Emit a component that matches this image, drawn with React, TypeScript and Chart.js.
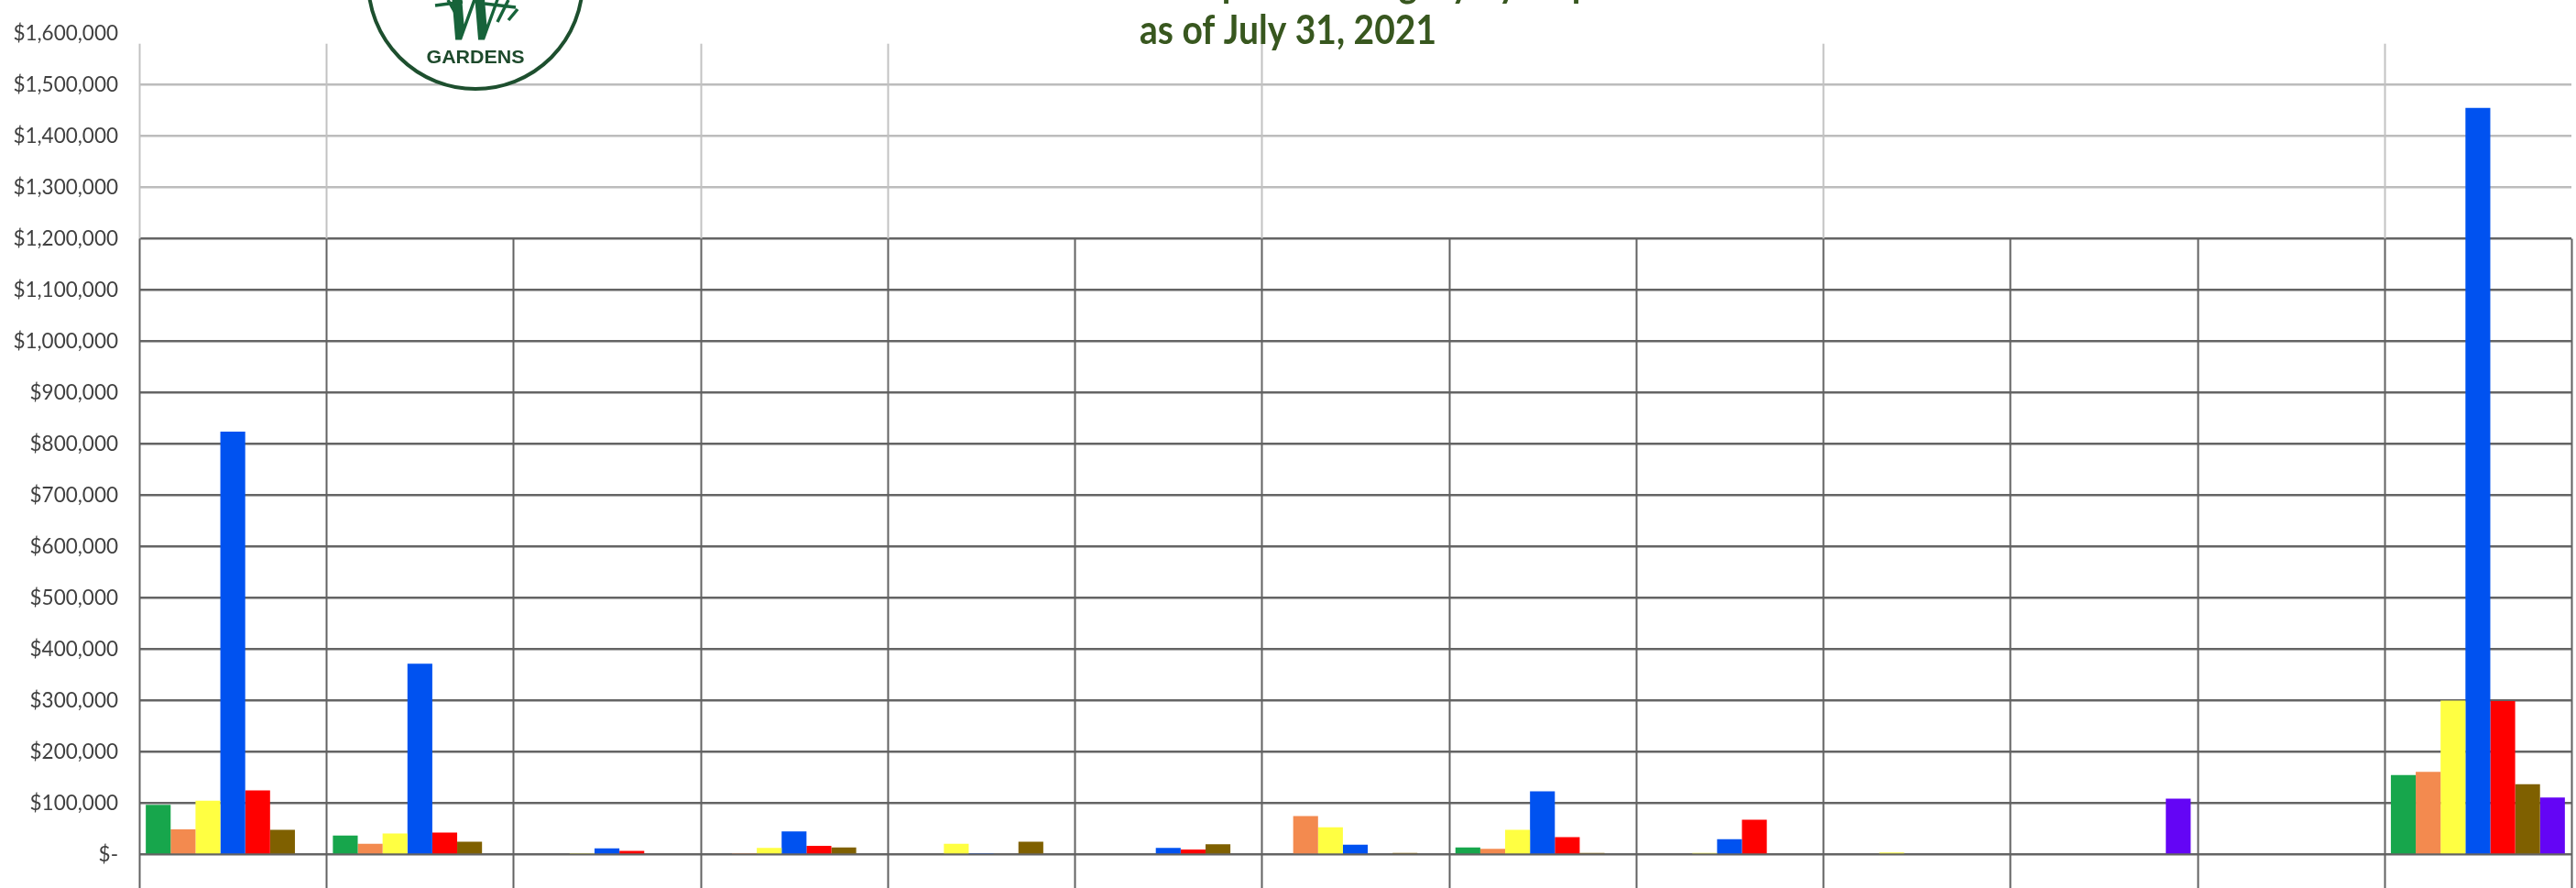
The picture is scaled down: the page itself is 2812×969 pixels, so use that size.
import React, { useEffect, useRef } from 'react';
import { Chart, registerables } from 'chart.js';

Chart.register(...registerables);

// Departments along the category axis (their labels sit below the visible area)
const departments = [
  'Administration', 'Horticulture', 'Education', 'Events', 'Marketing', 'Membership',
  'Retail', 'Visitor Services', 'Security', 'Volunteers', 'Development', 'Finance', 'Facilities',
];

// Expense categories, one bar colour each
const categoryNames = ['Payroll', 'Benefits', 'Supplies', 'Capital', 'Contract Services', 'Utilities', 'Other'];
const categoryColors = ['#17a64c', '#f38a4f', '#ffff42', '#0052f0', '#ff0000', '#7f6000', '#6405f5'];

// Year-to-date spend per department, by category
const payroll = [97000, 37000, 0, 0, 0, 0, 0, 14000, 0, 0, 0, 0, 155000];
const benefits = [49000, 21000, 0, 2000, 0, 0, 75000, 11000, 0, 0, 0, 0, 161000];
const supplies = [105000, 41000, 2000, 13000, 21000, 0, 53000, 48000, 3000, 4000, 0, 0, 300000];
const capital = [824000, 372000, 12000, 45000, 2000, 13000, 19000, 123000, 30000, 0, 0, 0, 1455000];
const contractServices = [125000, 43000, 7000, 17000, 0, 10000, 0, 34000, 68000, 0, 0, 0, 299000];
const utilities = [48000, 25000, 0, 14000, 25000, 20000, 3000, 3000, 0, 0, 0, 0, 137000];
const other = [0, 0, 0, 0, 0, 0, 0, 0, 0, 0, 109000, 0, 111000];

const seriesValues = [payroll, benefits, supplies, capital, contractServices, utilities, other];

// Value axis
const axisMin = 0;
const axisMax = 1600000;
const axisStep = 100000;

const titleLine1 = 'Year-to-Date Actual Expense Category by Department';
const titleLine2 = 'as of July 31, 2021';

// Dividers that run the full height; the rest start at the upper band level
const fullDividers = [0, 1, 3, 4, 6, 9, 12];
const dividerFullTop = 1580000;
const dividerBandTop = 1200000;

const formatDollars = (v: number) =>
  v === 0 ? '$-' : '$' + Math.round(v).toLocaleString('en-US');

const backgroundPlugin = {
  id: 'whiteBackground',
  beforeDraw(chart: any) {
    const { ctx, width, height } = chart;
    ctx.save();
    ctx.fillStyle = '#ffffff';
    ctx.fillRect(0, 0, width, height);
    ctx.restore();
  },
};

const dividerPlugin = {
  id: 'categoryDividers',
  beforeDatasetsDraw(chart: any) {
    const { ctx, scales, height } = chart;
    const x = scales.x;
    const y = scales.y;
    const n = departments.length;
    const w = (x.right - x.left) / n;
    const yBand = y.getPixelForValue(dividerBandTop);
    const yTop = y.getPixelForValue(dividerFullTop);
    ctx.save();
    ctx.lineWidth = 2;
    for (let k = 0; k <= n; k++) {
      const px = Math.round(x.left + k * w) + 0.5;
      if (fullDividers.includes(k)) {
        ctx.strokeStyle = '#c2c2c2';
        ctx.beginPath();
        ctx.moveTo(px, yTop);
        ctx.lineTo(px, yBand);
        ctx.stroke();
      }
      ctx.strokeStyle = '#626262';
      ctx.beginPath();
      ctx.moveTo(px, yBand);
      ctx.lineTo(px, height);
      ctx.stroke();
    }
    ctx.restore();
  },
};

const headerPlugin = {
  id: 'headerBlock',
  afterDraw(chart: any) {
    const { ctx, width } = chart;
    ctx.save();

    // Logo badge
    const cx = 519;
    const cy = -20;
    const r = 117;
    ctx.fillStyle = '#ffffff';
    ctx.beginPath();
    ctx.arc(cx, cy, r, 0, Math.PI * 2);
    ctx.fill();
    ctx.lineWidth = 4;
    ctx.strokeStyle = '#1d4f2e';
    ctx.stroke();

    ctx.fillStyle = '#17633a';
    ctx.textAlign = 'center';
    ctx.textBaseline = 'alphabetic';
    ctx.font = 'bold italic 76px "DejaVu Serif"';
    ctx.save();
    ctx.translate(cx - 2, 44);
    ctx.scale(0.72, 1);
    ctx.fillText('W', 0, 0);
    ctx.restore();
    ctx.strokeStyle = '#17633a';
    ctx.lineWidth = 3.5;
    ctx.beginPath();
    ctx.moveTo(cx - 44, 6); ctx.lineTo(cx - 14, 2);
    ctx.moveTo(cx - 30, 0); ctx.lineTo(cx - 22, 14);
    ctx.moveTo(cx + 10, 4); ctx.lineTo(cx + 44, 8);
    ctx.moveTo(cx + 36, 0); ctx.lineTo(cx + 24, 24);
    ctx.moveTo(cx + 46, 10); ctx.lineTo(cx + 36, 22);
    ctx.stroke();

    ctx.fillStyle = '#1e4a2c';
    ctx.font = 'bold 20px "Liberation Sans"';
    const gw = ctx.measureText('GARDENS').width;
    ctx.save();
    ctx.translate(cx, 69);
    ctx.scale(107 / gw, 1);
    ctx.fillText('GARDENS', 0, 0);
    ctx.restore();

    // Title, two lines; the first line runs off the top edge
    ctx.fillStyle = '#38571f';
    ctx.font = 'bold 43px Lato';
    const w2 = ctx.measureText(titleLine2).width;
    const sx = 324 / w2;
    ctx.translate(width / 2, 0);
    ctx.scale(sx, 1);
    ctx.textAlign = 'center';
    ctx.fillText(titleLine1, 0, -3);
    ctx.fillText(titleLine2, 0, 48);
    ctx.restore();
  },
};

export default function App() {
  const canvasRef = useRef<HTMLCanvasElement | null>(null);

  useEffect(() => {
    const canvas = canvasRef.current;
    if (!canvas) return;
    const chart = new Chart(canvas, {
      type: 'bar',
      data: {
        labels: departments,
        datasets: seriesValues.map((vals, i) => ({
          label: categoryNames[i],
          data: vals,
          backgroundColor: categoryColors[i],
          borderWidth: 0,
          barPercentage: 1,
          categoryPercentage: 0.93,
        })),
      },
      options: {
        animation: false,
        responsive: false,
        devicePixelRatio: 1,
        layout: { padding: { top: 21, right: 5, left: 0, bottom: 0 } },
        plugins: {
          legend: { display: false },
          title: { display: false },
          tooltip: { enabled: false },
        },
        scales: {
          x: {
            grid: { display: false },
            border: { display: false },
            ticks: { display: false },
            afterFit: (s: any) => { s.height = 10; },
          },
          y: {
            min: axisMin,
            max: axisMax,
            border: { display: false },
            grid: {
              drawTicks: false,
              lineWidth: 2.5,
              color: (c: any) => {
                const v = c.tick ? c.tick.value : 0;
                if (v >= axisMax) return 'rgba(0,0,0,0)';
                return v > dividerBandTop ? '#bcbcbc' : '#646464';
              },
            },
            ticks: {
              stepSize: axisStep,
              padding: 23,
              color: '#404040',
              font: { family: 'Lato', size: 22.5 },
              callback: (v: any) => formatDollars(Number(v)),
            },
            afterFit: (s: any) => { s.width = 152; },
          },
        },
      },
      plugins: [backgroundPlugin, dividerPlugin, headerPlugin],
    });
    return () => chart.destroy();
  }, []);

  return (
    <div style={{ position: 'fixed', left: 0, top: 0, width: 2812, height: 969, background: '#ffffff' }}>
      <canvas ref={canvasRef} width={2812} height={969} style={{ display: 'block' }} />
    </div>
  );
}
